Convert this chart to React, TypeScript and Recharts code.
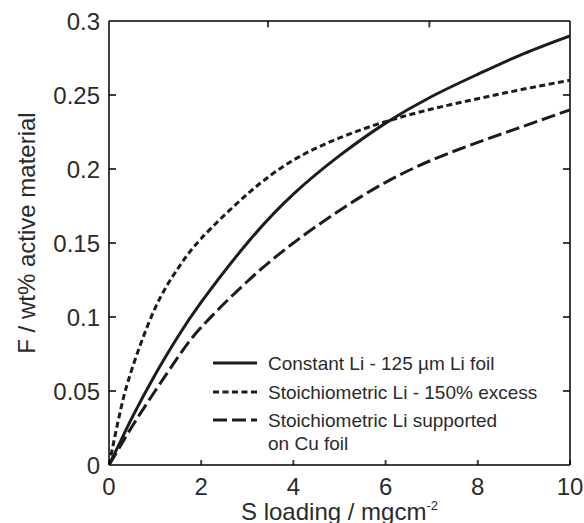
import React from 'react';
import { LineChart, Line, XAxis, YAxis, ReferenceLine, CartesianGrid } from 'recharts';

// S loading (mg cm-2)
const loading = [0, 0.25, 0.5, 1, 1.5, 2, 3, 4, 5, 6, 7, 8, 9, 10];

// F / wt% active material for each lithium configuration
const constantLi = [0, 0.016, 0.032, 0.061, 0.087, 0.11, 0.15, 0.183, 0.209, 0.231, 0.249, 0.264, 0.278, 0.29];
const stoichExcess = [0, 0.037, 0.065, 0.106, 0.133, 0.153, 0.183, 0.206, 0.221, 0.232, 0.2405, 0.2475, 0.254, 0.26];
const stoichCu = [0, 0.013, 0.026, 0.05, 0.073, 0.093, 0.124, 0.15, 0.172, 0.191, 0.206, 0.218, 0.229, 0.24];

const xTicks = [0, 2, 4, 6, 8, 10];
const yTicks = [0, 0.05, 0.1, 0.15, 0.2, 0.25, 0.3];
const topTicks = [3.45, 6.95];

const seriesNames = [
  'Constant Li - 125 \u00b5m Li foil',
  'Stoichiometric Li - 150% excess',
  'Stoichiometric Li supported',
];

const data = loading.map((s, i) => ({
  s,
  constant: constantLi[i],
  excess: stoichExcess[i],
  cu: stoichCu[i],
}));

const X_MAX = 10;
const Y_MAX = 0.3;

// layout
const CHART_W = 584;
const CHART_H = 523;
const TOP = 21;
const Y_AXIS_W = 109;
const RIGHT = 14;
const X_AXIS_H = 58;
const PLOT_W = CHART_W - Y_AXIS_W - RIGHT;

// top-edge mark length, in axis units (about 6px)
const TICK_DY = 0.0043;

const FONT = '"Liberation Sans", Arial, sans-serif';
const INK = '#1c1c1c';
const TEXT = '#2b2b2b';
// frame and tick colour: black at reduced opacity reads as dark grey
const edge = { stroke: 'black', strokeOpacity: 0.75, strokeWidth: 2 };

const DOTTED = '6 3.5';
const DASHED = '14 5';

// label below the axis, short inward mark above it
const BottomTick = ({ x, y, payload }: any) => (
  <g>
    <line x1={x} x2={x} y1={y} y2={y - 5} {...edge} />
    <text x={x} y={y + 30} textAnchor="middle" fontSize={24} fontFamily={FONT} fill={TEXT}>
      {payload.value}
    </text>
  </g>
);

// label left of the axis, inward marks on the left and right sides
const LeftTick = ({ x, y, payload }: any) => (
  <g>
    {payload.value !== Y_MAX && payload.value !== 0 && (
      <>
        <line x1={x} x2={x + 7} y1={y} y2={y} {...edge} />
        <line x1={x + PLOT_W} x2={x + PLOT_W - 7} y1={y} y2={y} {...edge} />
      </>
    )}
    <text x={x - 9} y={y + 8.5} textAnchor="end" fontSize={24} fontFamily={FONT} fill={TEXT}>
      {payload.value}
    </text>
  </g>
);

const LegendBox = () => {
  const rows = [
    { y: 13, dash: undefined, label: seriesNames[0] },
    { y: 42, dash: DOTTED, label: seriesNames[1] },
    { y: 70, dash: DASHED, label: seriesNames[2] },
  ];
  return (
    <svg width={370} height={110} style={{ display: 'block' }}>
      {rows.map((r) => (
        <g key={r.label}>
          <line x1={3} x2={47} y1={r.y} y2={r.y} stroke={INK} strokeWidth={3} strokeDasharray={r.dash} />
          <text x={58} y={r.y + 7} fontSize={19} fontFamily={FONT} fill={TEXT}>
            {r.label}
          </text>
        </g>
      ))}
      <text x={58} y={100} fontSize={19} fontFamily={FONT} fill={TEXT}>
        on Cu foil
      </text>
    </svg>
  );
};

const XTitle = ({ viewBox }: any) => {
  const cx = viewBox.x + viewBox.width / 2;
  return (
    <text x={cx} y={viewBox.y + viewBox.height - 3} textAnchor="middle" fontSize={24} fontFamily={FONT} fill={TEXT}>
      S loading / mgcm
      <tspan dy={-10} fontSize={13}>-2</tspan>
    </text>
  );
};

const YTitle = ({ viewBox }: any) => {
  const cx = 35;
  const cy = viewBox.y + viewBox.height / 2 - 10;
  return (
    <text
      x={cx}
      y={cy}
      transform={`rotate(-90 ${cx} ${cy})`}
      textAnchor="middle"
      fontSize={24}
      fontFamily={FONT}
      fill={TEXT}
    >
      F / wt% active material
    </text>
  );
};

export default function App() {
  return (
    <div style={{ position: 'absolute', left: 0, top: 0, width: CHART_W, height: CHART_H, background: '#fff' }}>
      <LineChart width={CHART_W} height={CHART_H} data={data} margin={{ top: TOP, right: RIGHT, left: 0, bottom: 0 }}>
        {/* top and right sides of the box */}
        <CartesianGrid horizontalValues={[Y_MAX]} verticalValues={[X_MAX]} {...edge} />
        <XAxis
          dataKey="s"
          type="number"
          domain={[0, X_MAX]}
          allowDataOverflow
          ticks={xTicks}
          height={X_AXIS_H}
          axisLine={edge}
          tickLine={false}
          tickSize={0}
          tickMargin={0}
          tick={<BottomTick />}
          label={<XTitle />}
        />
        <YAxis
          type="number"
          domain={[0, Y_MAX]}
          allowDataOverflow
          ticks={yTicks}
          width={Y_AXIS_W}
          axisLine={edge}
          tickLine={false}
          tickSize={0}
          tickMargin={0}
          tick={<LeftTick />}
          label={<YTitle />}
        />
        {/* marks along the top edge */}
        {topTicks.map((t) => (
          <ReferenceLine
            key={`xt${t}`}
            segment={[{ x: t, y: Y_MAX }, { x: t, y: Y_MAX - TICK_DY }]}
            ifOverflow="visible"
            {...edge}
          />
        ))}
        <Line type="natural" dataKey="constant" name={seriesNames[0]} stroke={INK} strokeWidth={3} dot={false} isAnimationActive={false} />
        <Line type="natural" dataKey="excess" name={seriesNames[1]} stroke={INK} strokeWidth={3} strokeDasharray={DOTTED} dot={false} isAnimationActive={false} />
        <Line type="natural" dataKey="cu" name={seriesNames[2]} stroke={INK} strokeWidth={3} strokeDasharray={DASHED} dot={false} isAnimationActive={false} />
      </LineChart>
      <div style={{ position: 'absolute', left: 210, top: 350 }}>
        <LegendBox />
      </div>
    </div>
  );
}
